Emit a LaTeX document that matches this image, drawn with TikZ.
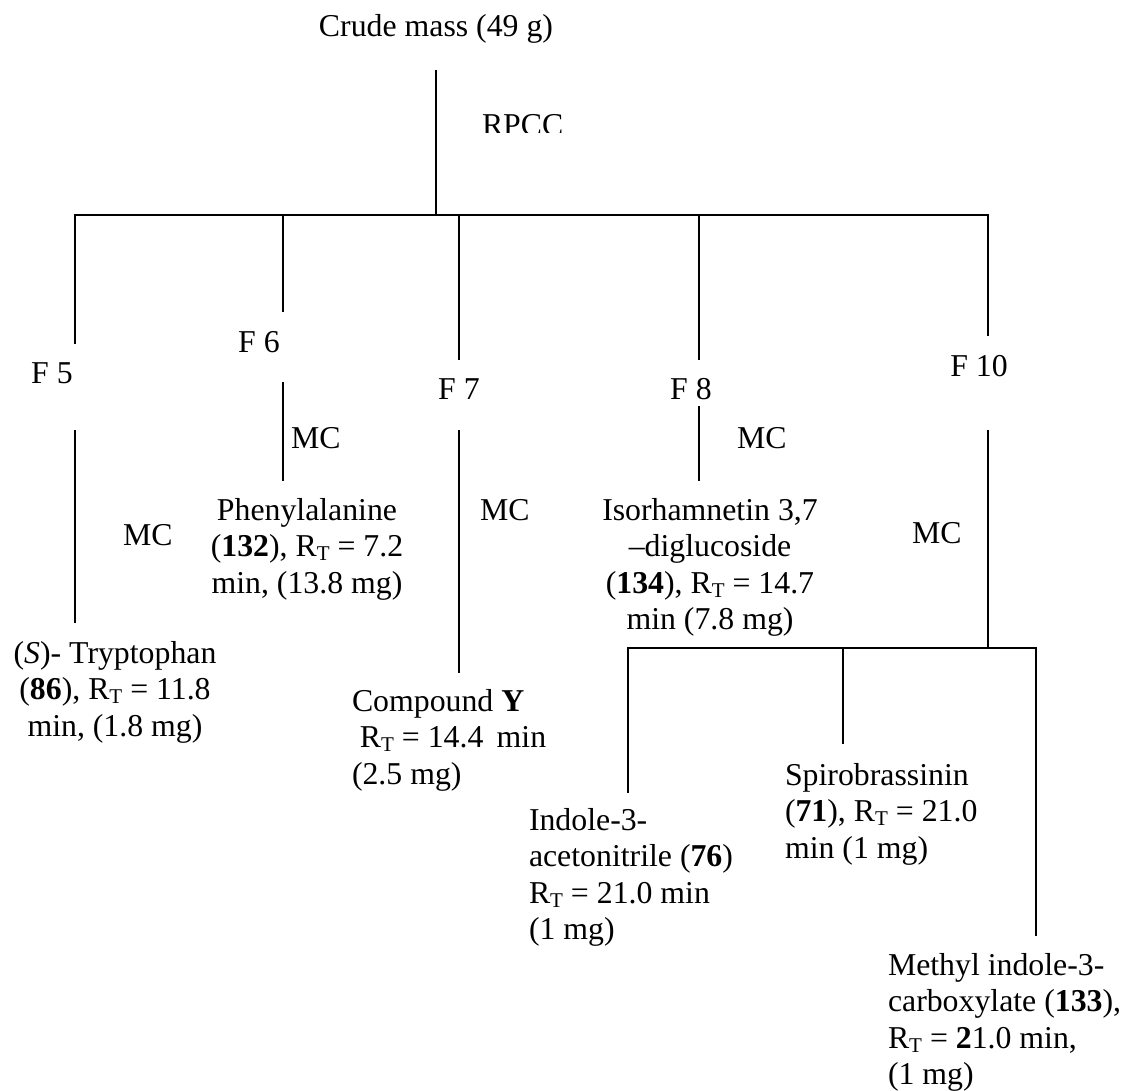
\documentclass[tikz,border=0pt]{standalone}
\usepackage{fontspec}
\setmainfont{Liberation Serif}
\newcommand{\RTsub}{R\raisebox{-0.13em}{\fontsize{21}{21}\selectfont T}}
\newcommand{\cblock}[1]{\begin{tabular}[t]{@{}c@{}}#1\end{tabular}}
\newcommand{\lblock}[1]{\begin{tabular}[t]{@{}l@{}}#1\end{tabular}}
\tikzset{
  lbl/.style={inner sep=0pt, outer sep=0pt, anchor=base, font=\fontsize{31.8}{36.5}\selectfont},
  lblw/.style={lbl, anchor=base west},
  ln/.style={line width=1.8pt, line cap=rect}
}
\begin{document}
\begin{tikzpicture}[x=1pt,y=-1pt]
\fill[white] (0,0) rectangle (1124,1091);
\useasboundingbox (0,0) rectangle (1124,1091);

% text nodes
\node[lbl] (crude) at (436,37) {Crude mass (49 g)};
\begin{scope}
  \clip (470,100) rectangle (600,133);
  \node[lblw] (rpcc) at (482,136) {RPCC};
\end{scope}
\node[lbl] (F5) at (52,383) {F 5};
\node[lbl] (F6) at (259,352) {F 6};
\node[lbl] (F7) at (459,399) {F 7};
\node[lbl] (F8) at (691,399) {F 8};
\node[lbl] (F10) at (979,376) {F 10};

\node[lblw] (mc5) at (123,545) {MC};
\node[lblw] (mc6) at (291,448) {MC};
\node[lblw] (mc7) at (480,520) {MC};
\node[lblw] (mc8) at (737,448) {MC};
\node[lblw] (mc10) at (912,543) {MC};

\node[lbl] (trp) at (115,663) {\cblock{(\textit{S})- Tryptophan\\(\textbf{86}), \RTsub{} = 11.8\\min, (1.8 mg)}};
\node[lbl] (phe) at (307,520) {\cblock{Phenylalanine\\(\textbf{132}), \RTsub{} = 7.2\\min, (13.8 mg)}};
\node[lblw] (cpy) at (352,711) {\lblock{Compound \textbf{Y}\\\ \RTsub{} = 14.4\,\ min\\(2.5 mg)}};
\node[lbl] (iso) at (710,520) {\cblock{Isorhamnetin 3,7\\–diglucoside\\(\textbf{134}), \RTsub{} = 14.7\\min (7.8 mg)}};
\node[lblw] (ind) at (529,830) {\lblock{Indole-3-\\acetonitrile (\textbf{76})\\\RTsub{} = 21.0 min\\(1 mg)}};
\node[lblw] (spi) at (785,785) {\lblock{Spirobrassinin\\(\textbf{71}), \RTsub{} = 21.0\\min (1 mg)}};
\node[lblw] (mic) at (888,975) {\lblock{Methyl indole-3-\\carboxylate (\textbf{133}),\\\RTsub{} = \textbf{2}1.0 min,\\(1 mg)}};

% junction and end coordinates
\coordinate (t0) at (436,71);
\coordinate (t1) at (436,215);
\coordinate (b5) at (75,215);
\coordinate (b6) at (283,215);
\coordinate (b7) at (459,215);
\coordinate (b8) at (699,215);
\coordinate (b10) at (988,215);
\coordinate (e5a) at (75,343);   \coordinate (e5b) at (75,431);   \coordinate (e5c) at (75,622);
\coordinate (e6a) at (283,311);  \coordinate (e6b) at (283,383);  \coordinate (e6c) at (283,480);
\coordinate (e7a) at (459,359);  \coordinate (e7b) at (459,431);  \coordinate (e7c) at (459,672);
\coordinate (e8a) at (699,359);  \coordinate (e8b) at (699,407);  \coordinate (e8c) at (699,480);
\coordinate (e10a) at (988,335); \coordinate (e10b) at (988,431); \coordinate (e10c) at (988,648);
\coordinate (s1) at (628,648);   \coordinate (s1e) at (628,792);
\coordinate (s2) at (843,648);   \coordinate (s2e) at (843,743);
\coordinate (s3) at (1036,648);  \coordinate (s3e) at (1036,935);

% connectors
\draw[ln] (t0) -- (t1);
\draw[ln] (b5) -- (b10);
\draw[ln] (b5) -- (e5a);  \draw[ln] (e5b) -- (e5c);
\draw[ln] (b6) -- (e6a);  \draw[ln] (e6b) -- (e6c);
\draw[ln] (b7) -- (e7a);  \draw[ln] (e7b) -- (e7c);
\draw[ln] (b8) -- (e8a);  \draw[ln] (e8b) -- (e8c);
\draw[ln] (b10) -- (e10a); \draw[ln] (e10b) -- (e10c);
\draw[ln] (s1) -- (s3);
\draw[ln] (s1) -- (s1e);
\draw[ln] (s2) -- (s2e);
\draw[ln] (s3) -- (s3e);
\end{tikzpicture}
\end{document}
